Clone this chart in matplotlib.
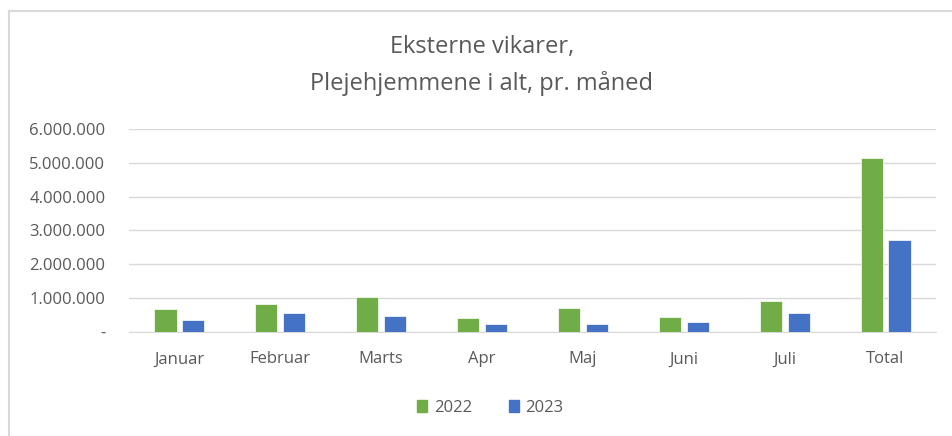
import matplotlib.pyplot as plt
from matplotlib.lines import Line2D
from matplotlib.patches import Patch
from matplotlib.ticker import FuncFormatter
import numpy as np

categories = ["Januar", "Februar", "Marts", "Apr", "Maj", "Juni", "Juli", "Total"]
values_2022 = [670000, 830000, 1040000, 400000, 720000, 450000, 930000, 5130000]
values_2023 = [350000, 560000, 460000, 250000, 240000, 290000, 560000, 2710000]
series_labels = ["2022", "2023"]

green = "#70AD47"
blue = "#4472C4"
text_gray = "#595959"
grid_gray = "#d9d9d9"

plt.rcParams['font.family'] = ['Open Sans', 'DejaVu Sans']

fig = plt.figure(figsize=(9.52, 4.36), dpi=100)
ax = fig.add_axes([129 / 952, 1 - 332 / 436, (936 - 129) / 952, (332 - 129) / 436])

x = np.arange(len(categories))
w = 0.22
ax.bar(x - 0.138, values_2022, width=w, color=green, edgecolor="white", linewidth=0.5, zorder=3)
ax.bar(x + 0.138, values_2023, width=w, color=blue, edgecolor="white", linewidth=0.5, zorder=3)

ax.set_xlim(-0.5, len(categories) - 0.5)
ax.set_ylim(0, 6000000)
ax.set_yticks(np.arange(0, 6000001, 1000000))
ax.yaxis.set_major_formatter(FuncFormatter(
    lambda v, p: "-" if v == 0 else f"{int(v):,}".replace(",", ".")))
ax.set_xticks(x)
ax.set_xticklabels(categories)

ax.grid(axis="y", color=grid_gray, linewidth=1, zorder=0)
for s in ["top", "right", "left"]:
    ax.spines[s].set_visible(False)
ax.spines["bottom"].set_color(grid_gray)
ax.tick_params(axis="both", length=0, colors=text_gray, labelsize=12)
ax.tick_params(axis="x", pad=14)
ax.tick_params(axis="y", pad=17)

fig.text(0.506, 1 - 47 / 436, "Eksterne vikarer,", ha="center", va="center",
         fontsize=17, color=text_gray)
fig.text(0.506, 1 - 83 / 436, "Plejehjemmene i alt, pr. måned", ha="center", va="center",
         fontsize=17, color=text_gray)

handles = [Patch(color=green), Patch(color=blue)]
fig.legend(handles, series_labels, loc="center", bbox_to_anchor=(0.515, 1 - 408 / 436),
           ncol=2, frameon=False, handlelength=0.6, handleheight=0.7, handletextpad=0.4,
           columnspacing=2.2, labelcolor=text_gray, fontsize=12)

# chart border (left and top edges visible)
fig.add_artist(Line2D([9 / 952, 9 / 952], [0, 1 - 11 / 436], transform=fig.transFigure,
                      color=grid_gray, linewidth=1.5))
fig.add_artist(Line2D([9 / 952, 1], [1 - 11 / 436, 1 - 11 / 436], transform=fig.transFigure,
                      color=grid_gray, linewidth=1.5))

fig.savefig("out.png", dpi=100)
